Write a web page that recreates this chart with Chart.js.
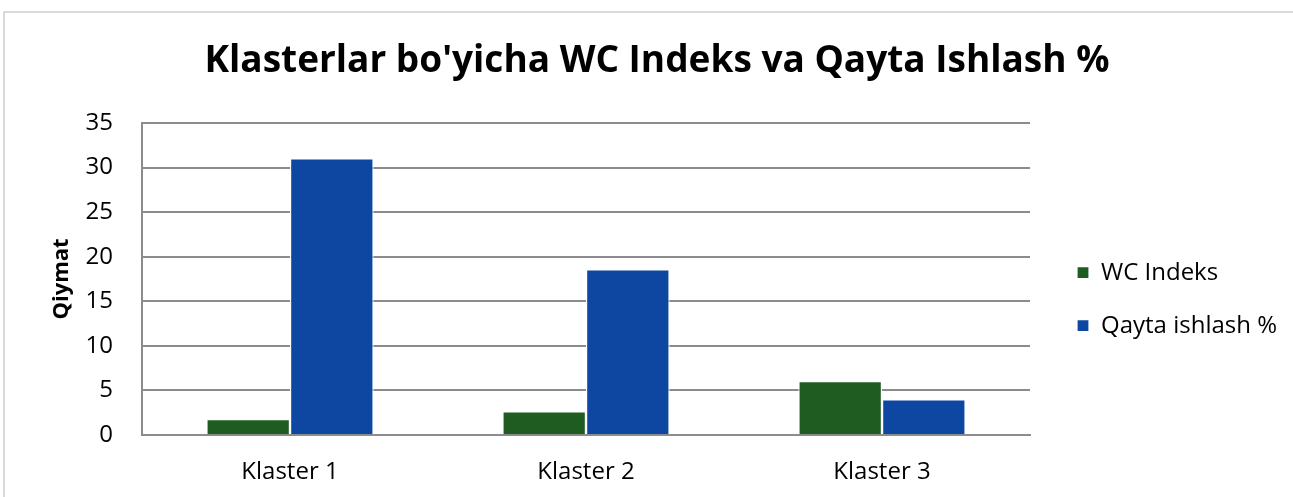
<!DOCTYPE html>
<html>
<head>
<meta charset="utf-8">
<script src="https://cdn.jsdelivr.net/npm/chart.js@4"></script>
<style>
  html, body { margin: 0; padding: 0; background: #fff; overflow: hidden; }
  #frame {
    position: absolute; left: 3px; top: 11px; right: 0; bottom: 0;
    border-left: 2px solid #d9d9d9; border-top: 2px solid #d9d9d9;
  }
  #chart { position: absolute; left: 27px; top: 13px; display: block; }
</style>
</head>
<body>
<div id="frame"></div>
<canvas id="chart" width="1266" height="484"></canvas>
<script>
var categories = ['Klaster 1', 'Klaster 2', 'Klaster 3']
var wcIndeks = [1.8, 2.65, 6.05]
var qaytaIshlash = [31.05, 18.6, 4.0]
var seriesNames = ['WC Indeks', 'Qayta ishlash %']
var yTicks = [0, 5, 10, 15, 20, 25, 30, 35]

var green = '#1e5c21'
var blue = '#0e47a1'
var gridGray = '#8c8c8c'
var fontFamily = "'Open Sans', 'DejaVu Sans', sans-serif"

var ctx = document.getElementById('chart')

function barSet(label, data, color) {
  return {
    label: label,
    data: data,
    backgroundColor: color,
    borderColor: '#ffffff',
    borderWidth: 1.2,
    categoryPercentage: 0.565,
    barPercentage: 1
  }
}

var chart = new Chart(ctx, {
  type: 'bar',
  data: {
    labels: categories,
    datasets: [
      barSet(seriesNames[0], wcIndeks, green),
      barSet(seriesNames[1], qaytaIshlash, blue)
    ]
  },
  options: {
    responsive: false,
    animation: false,
    layout: { padding: { left: 0, right: 6, top: 0, bottom: 0 } },
    plugins: {
      tooltip: { enabled: false },
      title: {
        display: true,
        text: "Klasterlar bo'yicha WC Indeks va Qayta Ishlash %",
        color: '#000',
        font: { family: fontFamily, size: 37, weight: 'bold', lineHeight: 1.2 },
        padding: { top: 26, bottom: 39.6 }
      },
      legend: {
        display: true,
        position: 'right',
        fullSize: false,
        maxWidth: 400,
        // empty title only pushes the two items a bit lower, like the original
        title: { display: true, text: '', padding: 13 },
        labels: {
          color: '#000',
          boxWidth: 12,
          boxHeight: 12,
          padding: 29,
          font: { family: fontFamily, size: 24 }
        }
      }
    },
    scales: {
      x: {
        grid: { display: false, drawTicks: false },
        border: { display: true, color: gridGray, width: 2 },
        ticks: {
          color: '#000',
          padding: 23,
          font: { family: fontFamily, size: 24 }
        },
        afterFit: function(axis) { axis.height = 62 }
      },
      y: {
        min: 0,
        max: 35,
        afterBuildTicks: function(axis) {
          axis.ticks = yTicks.map(function(v) { return { value: v } })
        },
        grid: { color: gridGray, lineWidth: 2, drawTicks: false },
        border: { display: true, color: gridGray, width: 2 },
        ticks: {
          color: '#000',
          padding: 29,
          font: { family: fontFamily, size: 24 }
        },
        title: {
          display: true,
          text: 'Qiymat',
          color: '#000',
          font: { family: fontFamily, size: 22, weight: 'bold', lineHeight: 1.2 },
          padding: { top: 22, bottom: 0 }
        },
        afterFit: function(axis) { axis.width = 115 }
      },
      gap: {
        position: 'right',
        display: true,
        grid: { display: false, drawTicks: false },
        border: { display: false },
        ticks: { display: false },
        afterFit: function(axis) { axis.width = 18 }
      }
    }
  }
})
</script>
</body>
</html>
